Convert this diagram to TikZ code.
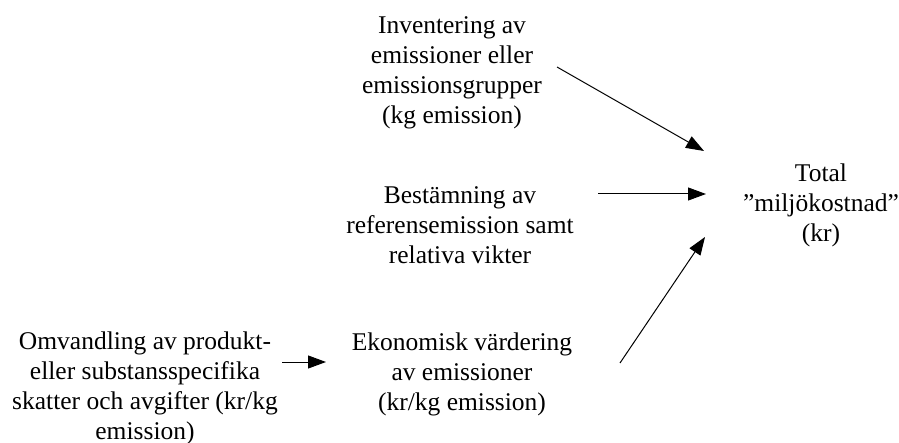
\documentclass[tikz,border=0pt]{standalone}
\usepackage{fontspec}
\setmainfont{Liberation Serif}
\usetikzlibrary{arrows.meta}
\begin{document}
\begin{tikzpicture}[x=1pt,y=-1pt,
  lbl/.style={align=center,inner sep=0pt,font=\fontsize{25.5}{30}\selectfont},
  arr/.style={-{Triangle[length=18pt,width=13pt]},line width=1pt}]
\useasboundingbox (0,0) rectangle (899,443);
\node[lbl] (inv) at (452,73) {Inventering av\\emissioner eller\\emissionsgrupper\\(kg emission)};
\node[lbl] (best) at (460,225) {Bestämning av\\referensemission samt\\relativa vikter};
\node[lbl] (eko) at (462,374) {Ekonomisk värdering\\av emissioner\\(kr/kg emission)};
\node[lbl] (omv) at (145,388) {Omvandling av produkt-\\eller substansspecifika\\skatter och avgifter (kr/kg\\emission)};
\node[lbl] (tot) at (821,205) {Total\\”miljökostnad”\\(kr)};
\coordinate (a1s) at (557,67);  \coordinate (a1e) at (704,151);
\coordinate (a2s) at (598,194); \coordinate (a2e) at (706,194);
\coordinate (a3s) at (620,363); \coordinate (a3e) at (705,237);
\coordinate (a4s) at (282,362); \coordinate (a4e) at (326,362);
\draw[arr] (a1s) -- (a1e);
\draw[arr] (a2s) -- (a2e);
\draw[arr] (a3s) -- (a3e);
\draw[arr] (a4s) -- (a4e);
\end{tikzpicture}
\end{document}
